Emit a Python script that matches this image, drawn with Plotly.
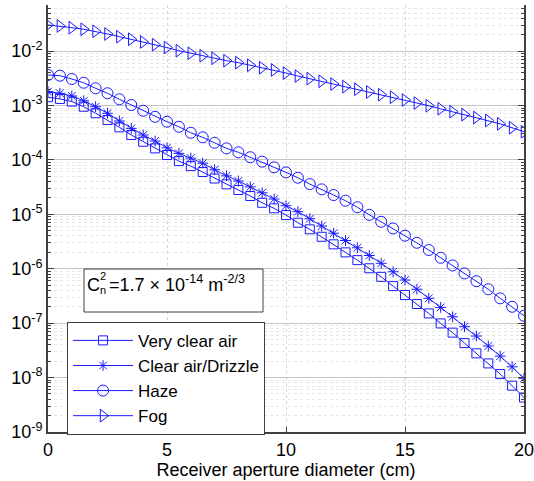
import plotly.graph_objects as go

diameter_cm = [i * 0.5 for i in range(41)]

very_clear_air = [1.42e-3, 1.32e-3, 1.18e-3, 9.5e-4, 7.2e-4, 5.4e-4, 3.97e-4, 2.87e-4, 2.16e-4, 1.63e-4,
                  1.23e-4, 9.5e-5, 7.7e-5, 6.0e-5, 4.55e-5, 3.56e-5, 2.80e-5, 2.17e-5, 1.63e-5, 1.29e-5,
                  9.7e-6, 7.0e-6, 5.3e-6, 3.87e-6, 2.81e-6, 2.00e-6, 1.44e-6, 1.02e-6, 7.1e-7, 4.8e-7,
                  3.29e-7, 2.25e-7, 1.51e-7, 9.9e-8, 6.7e-8, 4.3e-8, 2.79e-8, 1.82e-8, 1.16e-8, 7.1e-9,
                  4.3e-9]
clear_air_drizzle = [1.80e-3, 1.68e-3, 1.50e-3, 1.22e-3, 9.5e-4, 7.2e-4, 5.2e-4, 3.8e-4, 2.87e-4, 2.22e-4,
                     1.67e-4, 1.32e-4, 1.08e-4, 8.7e-5, 6.6e-5, 5.1e-5, 4.1e-5, 3.2e-5, 2.49e-5, 1.91e-5,
                     1.44e-5, 1.12e-5, 8.3e-6, 6.1e-6, 4.5e-6, 3.3e-6, 2.43e-6, 1.75e-6, 1.26e-6, 8.8e-7,
                     6.2e-7, 4.2e-7, 2.86e-7, 1.95e-7, 1.31e-7, 8.6e-8, 5.8e-8, 3.8e-8, 2.48e-8, 1.58e-8,
                     9.7e-9]
haze = [3.64e-3, 3.53e-3, 3.07e-3, 2.62e-3, 2.07e-3, 1.68e-3, 1.30e-3, 1.02e-3, 8.0e-4, 6.2e-4,
        5.04e-4, 4.07e-4, 3.15e-4, 2.60e-4, 2.07e-4, 1.63e-4, 1.38e-4, 1.12e-4, 9.3e-5, 7.3e-5,
        5.9e-5, 4.7e-5, 3.6e-5, 2.88e-5, 2.26e-5, 1.78e-5, 1.35e-5, 9.8e-6, 7.3e-6, 5.5e-6,
        4.05e-6, 3.0e-6, 2.21e-6, 1.59e-6, 1.15e-6, 8.2e-7, 5.9e-7, 4.2e-7, 2.86e-7, 2.0e-7,
        1.37e-7]
fog = [3.02e-2, 2.89e-2, 2.69e-2, 2.52e-2, 2.31e-2, 2.06e-2, 1.84e-2, 1.65e-2, 1.47e-2, 1.31e-2,
       1.16e-2, 1.016e-2, 9.12e-3, 8.22e-3, 7.38e-3, 6.67e-3, 6.12e-3, 5.48e-3, 4.95e-3, 4.50e-3,
       3.95e-3, 3.48e-3, 3.11e-3, 2.79e-3, 2.48e-3, 2.22e-3, 1.99e-3, 1.77e-3, 1.58e-3, 1.42e-3,
       1.26e-3, 1.11e-3, 9.9e-4, 8.7e-4, 7.7e-4, 6.8e-4, 6.0e-4, 5.3e-4, 4.6e-4, 3.9e-4,
       3.3e-4]

series_names = ["Very clear air", "Clear air/Drizzle", "Haze", "Fog"]
series_values = [very_clear_air, clear_air_drizzle, haze, fog]
series_symbols = ["square-open", "asterisk-open", "circle-open", "triangle-right-open"]
series_sizes = [9, 9, 11, 11]

x_ticks = [0, 5, 10, 15, 20]
y_exponents = [-9, -8, -7, -6, -5, -4, -3, -2]
y_tickvals = [10.0 ** e for e in y_exponents]
y_ticktext = ["10<sup>%d</sup>" % e for e in y_exponents]
y_minor = [k * 10.0 ** e for e in y_exponents for k in range(2, 10)]

blue = "#1a1aff"
dark = "#404040"
font_family = "Arial, Liberation Sans, sans-serif"

fig = go.Figure()
for name, vals, sym, sz in zip(series_names, series_values, series_symbols, series_sizes):
    fig.add_trace(go.Scatter(
        x=diameter_cm, y=vals, name=name, mode="lines+markers",
        line=dict(color=blue, width=1),
        marker=dict(symbol=sym, size=sz, color=blue, line=dict(color=blue, width=1)),
    ))

fig.update_layout(
    width=534, height=481,
    margin=dict(l=48, r=10, t=5, b=49),
    paper_bgcolor="white", plot_bgcolor="white",
    font=dict(family=font_family, size=18, color="black"),
    showlegend=True,
    legend=dict(
        x=0.04, y=0.258, xanchor="left", yanchor="top",
        bgcolor="white", bordercolor=dark, borderwidth=1,
        font=dict(size=17), itemwidth=60, tracegroupgap=0,
    ),
    shapes=[dict(type="rect", xref="paper", yref="paper",
                 x0=0.0756, x1=0.4517, y0=0.281, y1=0.3817,
                 line=dict(color=dark, width=1), fillcolor="white", layer="above")],
    annotations=[
        dict(xref="paper", yref="paper", x=0.0777, y=0.3173, xanchor="left", yanchor="bottom",
             text="C", showarrow=False, font=dict(size=18, color="black")),
        dict(xref="paper", yref="paper", x=0.1050, y=0.365, xanchor="left", yanchor="middle",
             text="2", showarrow=False, font=dict(size=11, color="black")),
        dict(xref="paper", yref="paper", x=0.1050, y=0.332, xanchor="left", yanchor="middle",
             text="n", showarrow=False, font=dict(size=11, color="black")),
        dict(xref="paper", yref="paper", x=0.1239, y=0.3173, xanchor="left", yanchor="bottom",
             text="=1.7 × 10<sup>-14</sup> m<sup>-2/3</sup>",
             showarrow=False, font=dict(size=18, color="black")),
    ],
)

fig.update_xaxes(
    range=[0, 20], tickvals=x_ticks, ticks="inside", ticklen=5, tickcolor=dark,
    showline=True, linecolor=dark, linewidth=2, mirror=False,
    showgrid=True, gridcolor="#d4d4d4", griddash="dot", gridwidth=1,
    zeroline=False, automargin=False, ticklabeloverflow="allow",
    title=dict(text="Receiver aperture diameter (cm)", font=dict(size=18), standoff=2),
    tickfont=dict(size=18),
)
fig.update_yaxes(
    type="log", range=[-9, -1.153],
    tickmode="array", tickvals=y_tickvals, ticktext=y_ticktext,
    ticks="inside", ticklen=6, tickcolor=dark,
    showline=True, linecolor=dark, linewidth=2, mirror="ticks",
    showgrid=True, gridcolor="#c4c4c4", gridwidth=1,
    zeroline=False, tickfont=dict(size=18), automargin=False, ticklabeloverflow="allow",
    minor=dict(tickmode="array", tickvals=y_minor, ticks="inside", ticklen=3,
               tickcolor=dark, showgrid=True, gridcolor="#e6e6e6", griddash="dot"),
)

fig.write_html("out.html")
